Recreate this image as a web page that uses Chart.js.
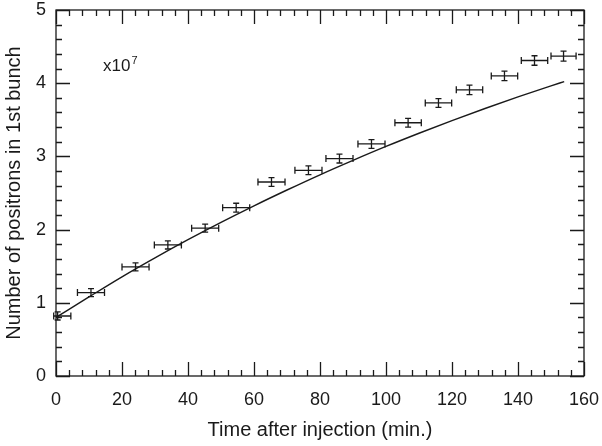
<!DOCTYPE html>
<html>
<head>
<meta charset="utf-8">
<title>Positrons in 1st bunch</title>
<script src="https://cdn.jsdelivr.net/npm/chart.js@4.4.0/dist/chart.umd.min.js"></script>
<style>
  html, body { margin: 0; padding: 0; background: #fff; }
  #wrap { width: 602px; height: 446px; }
</style>
</head>
<body>
<div id="wrap"><canvas id="chart" width="602" height="446"></canvas></div>
<script>
/* measured points (time in min, count in units of 1e7) */
const times     = [0.5, 10.6, 24.1, 33.9, 45.2, 54.6, 65.3, 76.5, 85.9, 95.6, 106.7, 115.9, 125.3, 135.9, 145.0, 153.8];
const counts    = [0.82, 1.14, 1.49, 1.79, 2.02, 2.30, 2.65, 2.81, 2.97, 3.17, 3.46, 3.73, 3.91, 4.10, 4.31, 4.37];
const timeErrLo = [1.2, 4.1, 4.1, 4.1, 4.1, 4.1, 4.1, 4.1, 4.1, 4.1, 4.0, 4.0, 4.0, 4.0, 4.0, 3.8];
const timeErrHi = [4.0, 4.1, 4.1, 4.1, 4.1, 4.1, 4.1, 4.1, 4.1, 4.1, 4.0, 4.0, 4.0, 4.0, 4.0, 3.8];
const countErr  = [0.055, 0.055, 0.055, 0.055, 0.055, 0.06, 0.06, 0.06, 0.06, 0.06, 0.06, 0.06, 0.065, 0.065, 0.065, 0.068];

/* calculated curve */
const curveTimes  = [0, 10, 20, 30, 40, 50, 60, 70, 80, 90, 100, 110, 120, 130, 140, 150, 154];
const curveCounts = [0.80, 1.08, 1.355, 1.614, 1.862, 2.099, 2.325, 2.541, 2.749, 2.946, 3.136, 3.316, 3.489, 3.654, 3.813, 3.963, 4.022];

/* axes */
const xMin = 0, xMax = 160, xStep = 20, xMinorStep = 4;
const yMin = 0, yMax = 5, yStep = 1, yMinorStep = 0.2;

const FONT = "'Liberation Sans', Arial, Helvetica, sans-serif";
const INK = '#1a1a1a';

// frame, inward ticks on all sides, error bars and the x10^7 note
const framePlugin = {
  id: 'frame',
  afterDatasetsDraw(chart) {
    const { ctx, chartArea: a, scales: { x, y } } = chart;
    ctx.save();
    ctx.strokeStyle = INK;
    ctx.lineWidth = 1.3;
    ctx.strokeRect(a.left, a.top, a.right - a.left, a.bottom - a.top);

    ctx.beginPath();
    for (let v = xMin; v <= xMax + 1e-9; v += xMinorStep) {
      const px = Math.round(x.getPixelForValue(v)) + 0.5;
      const len = Math.abs(v / xStep - Math.round(v / xStep)) < 1e-6 ? 14 : 6;
      ctx.moveTo(px, a.bottom); ctx.lineTo(px, a.bottom - len);
      ctx.moveTo(px, a.top); ctx.lineTo(px, a.top + len);
    }
    for (let v = yMin; v <= yMax + 1e-9; v += yMinorStep) {
      const py = Math.round(y.getPixelForValue(v)) + 0.5;
      const len = Math.abs(v / yStep - Math.round(v / yStep)) < 1e-6 ? 14 : 6;
      ctx.moveTo(a.left, py); ctx.lineTo(a.left + len, py);
      ctx.moveTo(a.right, py); ctx.lineTo(a.right - len, py);
    }
    ctx.stroke();

    ctx.beginPath();
    times.forEach((t, i) => {
      const cx = x.getPixelForValue(t), cy = y.getPixelForValue(counts[i]);
      const x0 = x.getPixelForValue(t - timeErrLo[i]), x1 = x.getPixelForValue(t + timeErrHi[i]);
      const y0 = y.getPixelForValue(counts[i] - countErr[i]), y1 = y.getPixelForValue(counts[i] + countErr[i]);
      ctx.moveTo(x0, cy); ctx.lineTo(x1, cy);
      ctx.moveTo(x0, cy - 3.5); ctx.lineTo(x0, cy + 3.5);
      ctx.moveTo(x1, cy - 3.5); ctx.lineTo(x1, cy + 3.5);
      ctx.moveTo(cx, y0); ctx.lineTo(cx, y1);
      ctx.moveTo(cx - 3, y0); ctx.lineTo(cx + 3, y0);
      ctx.moveTo(cx - 3, y1); ctx.lineTo(cx + 3, y1);
    });
    ctx.stroke();

    ctx.fillStyle = INK;
    ctx.textBaseline = 'alphabetic';
    ctx.font = `17px ${FONT}`;
    ctx.fillText('x10', 103, 71);
    const w = ctx.measureText('x10').width;
    ctx.font = `11px ${FONT}`;
    ctx.fillText('7', 103 + w + 1, 64);
    ctx.restore();
  }
};

new Chart(document.getElementById('chart'), {
  type: 'scatter',
  data: {
    datasets: [
      {
        type: 'line',
        data: curveTimes.map((t, i) => ({ x: t, y: curveCounts[i] })),
        borderColor: INK, borderWidth: 1.4, pointRadius: 0,
        cubicInterpolationMode: 'monotone', fill: false
      },
      {
        data: times.map((t, i) => ({ x: t, y: counts[i] })),
        pointRadius: 0, showLine: false
      }
    ]
  },
  options: {
    responsive: false, animation: false,
    layout: { padding: { top: 10, right: 18, left: 0, bottom: 0 } },
    plugins: { legend: { display: false }, tooltip: { enabled: false } },
    scales: {
      x: {
        type: 'linear', min: xMin, max: xMax,
        grid: { display: false, drawTicks: false }, border: { display: false },
        ticks: { stepSize: xStep, color: INK, font: { family: FONT, size: 18 }, padding: 13, maxRotation: 0, autoSkip: false },
        title: { display: true, text: 'Time after injection (min.)', color: INK, font: { family: FONT, size: 20 }, padding: 4 },
        afterFit(s) { s.height = 70; s.paddingLeft = 0; s.paddingRight = 0; }
      },
      y: {
        type: 'linear', min: yMin, max: yMax,
        grid: { display: false, drawTicks: false }, border: { display: false },
        ticks: { stepSize: yStep, color: INK, font: { family: FONT, size: 18 }, padding: 10 },
        title: { display: true, text: 'Number of positrons in 1st bunch', color: INK, font: { family: FONT, size: 20 }, padding: 2 },
        afterFit(s) { s.width = 56; s.paddingTop = 0; s.paddingBottom = 0; }
      }
    }
  },
  plugins: [framePlugin]
});
</script>
</body>
</html>
